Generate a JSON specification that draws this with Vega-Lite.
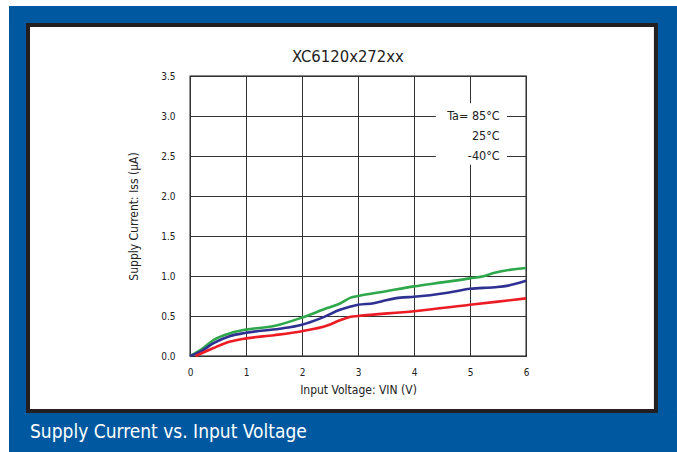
{
  "$schema": "https://vega.github.io/schema/vega-lite/v6.json",
  "width": 336,
  "height": 280,
  "autosize": {"type": "none"},
  "padding": {"left": 190, "top": 76, "right": 151, "bottom": 96},
  "background": "white",
  "config": {
    "font": "DejaVu Sans Condensed, Roboto, sans-serif",
    "view": {"stroke": "#111", "strokeWidth": 1.3},
    "text": {"font": "DejaVu Sans Condensed, Roboto, sans-serif"},
    "axis": {"labelFont": "DejaVu Sans Condensed, Roboto, sans-serif", "titleFont": "DejaVu Sans Condensed, Roboto, sans-serif", "grid": true, "gridColor": "#333", "gridWidth": 1, "ticks": false, "domain": false, "labelFontSize": 10, "labelColor": "#222", "titleFontSize": 12, "titleFontWeight": "normal", "titleColor": "#222", "labelFlush": false, "labelOverlap": false},
    "axisX": {"labelPadding": 11, "titlePadding": 7},
    "axisY": {"labelPadding": 15, "titlePadding": 20}
  },
  "datasets": {
    "curves": [
      {"v": 0, "i": 0, "s": "85°C"}, {"v": 0.2, "i": 0.08, "s": "85°C"}, {"v": 0.42, "i": 0.2, "s": "85°C"}, {"v": 0.72, "i": 0.285, "s": "85°C"}, {"v": 1.0, "i": 0.33, "s": "85°C"}, {"v": 1.5, "i": 0.375, "s": "85°C"}, {"v": 2.0, "i": 0.48, "s": "85°C"}, {"v": 2.45, "i": 0.6, "s": "85°C"}, {"v": 2.69, "i": 0.66, "s": "85°C"}, {"v": 2.87, "i": 0.73, "s": "85°C"}, {"v": 3.0, "i": 0.75, "s": "85°C"}, {"v": 3.5, "i": 0.81, "s": "85°C"}, {"v": 4.0, "i": 0.87, "s": "85°C"}, {"v": 4.5, "i": 0.92, "s": "85°C"}, {"v": 5.0, "i": 0.97, "s": "85°C"}, {"v": 5.26, "i": 1.0, "s": "85°C"}, {"v": 5.44, "i": 1.04, "s": "85°C"}, {"v": 6.0, "i": 1.1, "s": "85°C"},
      {"v": 0, "i": 0, "s": "25°C"}, {"v": 0.2, "i": 0.06, "s": "25°C"}, {"v": 0.42, "i": 0.16, "s": "25°C"}, {"v": 0.72, "i": 0.25, "s": "25°C"}, {"v": 1.0, "i": 0.29, "s": "25°C"}, {"v": 1.6, "i": 0.34, "s": "25°C"}, {"v": 2.0, "i": 0.39, "s": "25°C"}, {"v": 2.33, "i": 0.47, "s": "25°C"}, {"v": 2.69, "i": 0.58, "s": "25°C"}, {"v": 3.0, "i": 0.64, "s": "25°C"}, {"v": 3.28, "i": 0.66, "s": "25°C"}, {"v": 3.52, "i": 0.7, "s": "25°C"}, {"v": 3.76, "i": 0.73, "s": "25°C"}, {"v": 4.0, "i": 0.74, "s": "25°C"}, {"v": 4.6, "i": 0.79, "s": "25°C"}, {"v": 5.0, "i": 0.84, "s": "25°C"}, {"v": 5.44, "i": 0.86, "s": "25°C"}, {"v": 5.68, "i": 0.88, "s": "25°C"}, {"v": 6.0, "i": 0.94, "s": "25°C"},
      {"v": 0.1, "i": 0, "s": "-40°C"}, {"v": 0.42, "i": 0.1, "s": "-40°C"}, {"v": 0.72, "i": 0.18, "s": "-40°C"}, {"v": 1.0, "i": 0.22, "s": "-40°C"}, {"v": 1.5, "i": 0.26, "s": "-40°C"}, {"v": 2.0, "i": 0.31, "s": "-40°C"}, {"v": 2.45, "i": 0.38, "s": "-40°C"}, {"v": 2.69, "i": 0.45, "s": "-40°C"}, {"v": 2.87, "i": 0.49, "s": "-40°C"}, {"v": 3.0, "i": 0.5, "s": "-40°C"}, {"v": 4.0, "i": 0.56, "s": "-40°C"}, {"v": 5.0, "i": 0.64, "s": "-40°C"}, {"v": 6.0, "i": 0.72, "s": "-40°C"}
    ],
    "one": [{}]
  },
  "layer": [
    {
      "data": {"name": "curves"},
      "mark": {"type": "line", "interpolate": "monotone", "strokeWidth": 2.6},
      "encoding": {
        "x": {"field": "v", "type": "quantitative", "scale": {"domain": [0, 6], "nice": false, "zero": false},
          "axis": {"values": [0, 1, 2, 3, 4, 5, 6], "format": "d", "title": "Input Voltage: VIN (V)"}},
        "y": {"field": "i", "type": "quantitative", "scale": {"domain": [0, 3.5], "nice": false, "zero": false},
          "axis": {"values": [0, 0.5, 1, 1.5, 2, 2.5, 3, 3.5], "format": ".1f", "title": "Supply Current: Iss (μA)"}},
        "color": {"field": "s", "type": "nominal", "scale": {"domain": ["85°C", "25°C", "-40°C"], "range": ["#2ea84a", "#2e3192", "#ec1c24"]}, "legend": null},
        "detail": {"field": "s"}
      }
    },
    {
      "data": {"name": "one"},
      "mark": {"type": "rect", "fill": "#0059a0"},
      "encoding": {"x": {"datum": -3.232, "axis": {"values": [0, 1, 2, 3, 4, 5, 6], "format": "d", "title": "Input Voltage: VIN (V)"}}, "x2": {"datum": 8.696}, "y": {"datum": 4.375, "axis": {"values": [0, 0.5, 1, 1.5, 2, 2.5, 3, 3.5], "format": ".1f", "title": "Supply Current: Iss (μA)"}}, "y2": {"datum": 4.15}}
    },
    {
      "data": {"name": "one"},
      "mark": {"type": "rect", "fill": "#0059a0"},
      "encoding": {"x": {"datum": -3.232, "axis": {"values": [0, 1, 2, 3, 4, 5, 6], "format": "d", "title": "Input Voltage: VIN (V)"}}, "x2": {"datum": -2.911}, "y": {"datum": 4.375, "axis": {"values": [0, 0.5, 1, 1.5, 2, 2.5, 3, 3.5], "format": ".1f", "title": "Supply Current: Iss (μA)"}}, "y2": {"datum": -1.2}}
    },
    {
      "data": {"name": "one"},
      "mark": {"type": "rect", "fill": "#0059a0"},
      "encoding": {"x": {"datum": 8.32, "axis": {"values": [0, 1, 2, 3, 4, 5, 6], "format": "d", "title": "Input Voltage: VIN (V)"}}, "x2": {"datum": 8.696}, "y": {"datum": 4.375, "axis": {"values": [0, 0.5, 1, 1.5, 2, 2.5, 3, 3.5], "format": ".1f", "title": "Supply Current: Iss (μA)"}}, "y2": {"datum": -1.2}}
    },
    {
      "data": {"name": "one"},
      "mark": {"type": "rect", "fill": "#0059a0"},
      "encoding": {"x": {"datum": -3.232, "axis": {"values": [0, 1, 2, 3, 4, 5, 6], "format": "d", "title": "Input Voltage: VIN (V)"}}, "x2": {"datum": 8.696}, "y": {"datum": -0.6875, "axis": {"values": [0, 0.5, 1, 1.5, 2, 2.5, 3, 3.5], "format": ".1f", "title": "Supply Current: Iss (μA)"}}, "y2": {"datum": -1.2}}
    },
    {
      "data": {"name": "one"},
      "mark": {"type": "rect", "filled": false, "stroke": "#231f20", "strokeWidth": 4},
      "encoding": {"x": {"datum": -2.893, "axis": {"values": [0, 1, 2, 3, 4, 5, 6], "format": "d", "title": "Input Voltage: VIN (V)"}}, "x2": {"datum": 8.32}, "y": {"datum": 4.1375, "axis": {"values": [0, 0.5, 1, 1.5, 2, 2.5, 3, 3.5], "format": ".1f", "title": "Supply Current: Iss (μA)"}}, "y2": {"datum": -0.6875}}
    },
    {
      "data": {"name": "one"},
      "mark": {"type": "rect", "fill": "white"},
      "encoding": {"x": {"datum": 4.39, "axis": {"values": [0, 1, 2, 3, 4, 5, 6], "format": "d", "title": "Input Voltage: VIN (V)"}}, "x2": {"datum": 5.66}, "y": {"datum": 3.16, "axis": {"values": [0, 0.5, 1, 1.5, 2, 2.5, 3, 3.5], "format": ".1f", "title": "Supply Current: Iss (μA)"}}, "y2": {"datum": 2.39}}
    },
    {
      "data": {"name": "one"},
      "mark": {"type": "text", "align": "center", "baseline": "middle", "fontSize": 16.5, "color": "#222"},
      "encoding": {"x": {"datum": 2.82, "axis": {"values": [0, 1, 2, 3, 4, 5, 6], "format": "d", "title": "Input Voltage: VIN (V)"}}, "y": {"datum": 3.7375, "axis": {"values": [0, 0.5, 1, 1.5, 2, 2.5, 3, 3.5], "format": ".1f", "title": "Supply Current: Iss (μA)"}}, "text": {"value": "XC6120x272xx"}}
    },
    {
      "data": {"name": "one"},
      "mark": {"type": "text", "align": "right", "baseline": "middle", "fontSize": 12.5, "color": "#222"},
      "encoding": {"x": {"datum": 5.53, "axis": {"values": [0, 1, 2, 3, 4, 5, 6], "format": "d", "title": "Input Voltage: VIN (V)"}}, "y": {"datum": 3.0, "axis": {"values": [0, 0.5, 1, 1.5, 2, 2.5, 3, 3.5], "format": ".1f", "title": "Supply Current: Iss (μA)"}}, "text": {"value": "Ta= 85°C"}}
    },
    {
      "data": {"name": "one"},
      "mark": {"type": "text", "align": "right", "baseline": "middle", "fontSize": 12.5, "color": "#222"},
      "encoding": {"x": {"datum": 5.53, "axis": {"values": [0, 1, 2, 3, 4, 5, 6], "format": "d", "title": "Input Voltage: VIN (V)"}}, "y": {"datum": 2.75, "axis": {"values": [0, 0.5, 1, 1.5, 2, 2.5, 3, 3.5], "format": ".1f", "title": "Supply Current: Iss (μA)"}}, "text": {"value": "25°C"}}
    },
    {
      "data": {"name": "one"},
      "mark": {"type": "text", "align": "right", "baseline": "middle", "fontSize": 12.5, "color": "#222"},
      "encoding": {"x": {"datum": 5.53, "axis": {"values": [0, 1, 2, 3, 4, 5, 6], "format": "d", "title": "Input Voltage: VIN (V)"}}, "y": {"datum": 2.5, "axis": {"values": [0, 0.5, 1, 1.5, 2, 2.5, 3, 3.5], "format": ".1f", "title": "Supply Current: Iss (μA)"}}, "text": {"value": "-40°C"}}
    },
    {
      "data": {"name": "one"},
      "mark": {"type": "text", "align": "left", "baseline": "alphabetic", "fontSize": 19, "color": "white"},
      "encoding": {"x": {"datum": -2.857, "axis": {"values": [0, 1, 2, 3, 4, 5, 6], "format": "d", "title": "Input Voltage: VIN (V)"}}, "y": {"datum": -1.025, "axis": {"values": [0, 0.5, 1, 1.5, 2, 2.5, 3, 3.5], "format": ".1f", "title": "Supply Current: Iss (μA)"}}, "text": {"value": "Supply Current vs. Input Voltage"}}
    }
  ]
}
